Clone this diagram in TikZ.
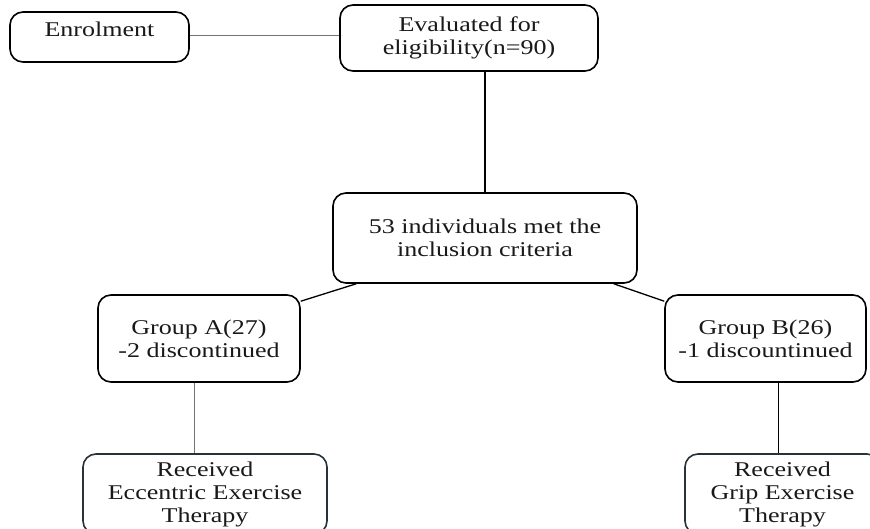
\documentclass[tikz,border=0pt]{standalone}
\usepackage{fontspec}
\setmainfont[FakeStretch=1.24]{Liberation Serif}
\definecolor{slate}{HTML}{26343A}
\begin{document}
\begin{tikzpicture}[x=1pt,y=-1pt,
  box/.style={draw=black, line width=1.6pt, rounded corners=13pt, align=center,
    inner sep=0pt, font=\fontsize{21}{23}\selectfont, text=black!90},
  rbox/.style={box, draw=slate},
  link/.style={line width=1.3pt, draw=black},
  thin/.style={line width=0.9pt, draw=black!55}]
\useasboundingbox (0,0) rectangle (870,529);
\clip (0,0) rectangle (870,529);
\node[box, minimum width=179pt, minimum height=50pt, text depth=15pt] (enr) at (99.5,37) {Enrolment};
\node[box, minimum width=258pt, minimum height=66pt] (eval) at (469,38) {Evaluated for\\eligibility(n=90)};
\node[box, minimum width=304pt, minimum height=90pt] (inc) at (485,238) {53 individuals met the\\inclusion criteria};
\node[box, minimum width=202pt, minimum height=87pt] (ga) at (199,338.5) {Group A(27)\\-2 discontinued};
\node[box, minimum width=201pt, minimum height=87pt] (gb) at (765.5,338.5) {Group B(26)\\-1 discountinued};
\node[rbox, minimum width=244pt, minimum height=80pt] (ra) at (205,494) {Received\\Eccentric Exercise\\Therapy};
\node[rbox, minimum width=195pt, minimum height=80pt] (rb) at (782.5,494) {Received\\Grip Exercise\\Therapy};
\draw[thin] ([yshift=2pt]enr.east) -- ([yshift=2pt]enr.east -| eval.west);
\draw[link, line width=1.7pt] (inc.north |- eval.south) -- (inc.north);
\draw[link] ([xshift=24pt]inc.south west) -- ([yshift=-7pt]ga.north east);
\draw[link] ([xshift=-24pt]inc.south east) -- ([yshift=-7pt]gb.north west);
\draw[thin] ([xshift=-5pt]ga.south) -- ([xshift=-5pt]ga.south |- ra.north);
\draw[link, line width=1pt] ([xshift=12.5pt]gb.south) -- ([xshift=12.5pt]gb.south |- rb.north);
\end{tikzpicture}
\end{document}
